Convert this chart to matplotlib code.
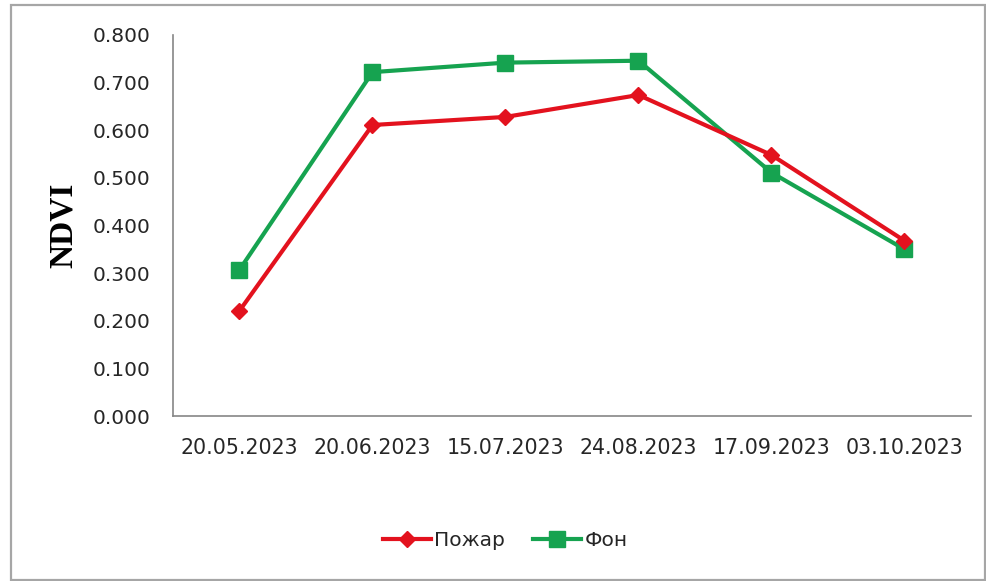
import matplotlib
matplotlib.use("Agg")
import matplotlib.pyplot as plt
from matplotlib.patches import Rectangle
from matplotlib.ticker import FormatStrFormatter

dates = ["20.05.2023", "20.06.2023", "15.07.2023", "24.08.2023", "17.09.2023", "03.10.2023"]
fire = [0.221, 0.611, 0.628, 0.674, 0.548, 0.368]
background = [0.307, 0.722, 0.742, 0.746, 0.511, 0.350]

W, H = 987, 581
fig = plt.figure(figsize=(W / 100, H / 100), dpi=100)
fig.patch.set_facecolor("white")

# outer chart frame
fig.add_artist(Rectangle((11 / W, 1 - 580 / H), (985 - 11) / W, (580 - 5) / H,
                         transform=fig.transFigure, fill=False,
                         edgecolor="#a6a6a6", linewidth=1.6))

ax = fig.add_axes([173 / W, 1 - 416 / H, (971 - 173) / W, (416 - 35) / H])

x = list(range(len(dates)))
red = "#e3121e"
green = "#16a350"
ax.plot(x, fire, color=red, linewidth=3, marker="D", markersize=8,
        label="Пожар", zorder=3)
ax.plot(x, background, color=green, linewidth=3, marker="s", markersize=11,
        label="Фон", zorder=2)

ax.set_xlim(-0.5, len(dates) - 0.5)
ax.set_ylim(0, 0.8)
ax.set_yticks([i / 10 for i in range(9)])
ax.yaxis.set_major_formatter(FormatStrFormatter("%.3f"))
ax.set_xticks(x)
ax.set_xticklabels(dates)

for s in ("top", "right"):
    ax.spines[s].set_visible(False)
for s in ("left", "bottom"):
    ax.spines[s].set_color("#868686")
    ax.spines[s].set_linewidth(1.2)

ax.tick_params(axis="both", length=0, colors="#262626")
ax.tick_params(axis="y", pad=16, labelsize=14.5)
ax.tick_params(axis="x", pad=16, labelsize=14.8)

ax.set_ylabel("NDVI", family="Liberation Serif", fontweight="bold",
              fontsize=24, color="black", labelpad=10)

leg = fig.legend(loc="center", bbox_to_anchor=(505 / W, 1 - 541 / H), ncol=2,
                 frameon=False, fontsize=14.5, handlelength=2.4,
                 handletextpad=0.15, columnspacing=1.4)
for t in leg.get_texts():
    t.set_color("#262626")

fig.savefig("out.png", dpi=100)
